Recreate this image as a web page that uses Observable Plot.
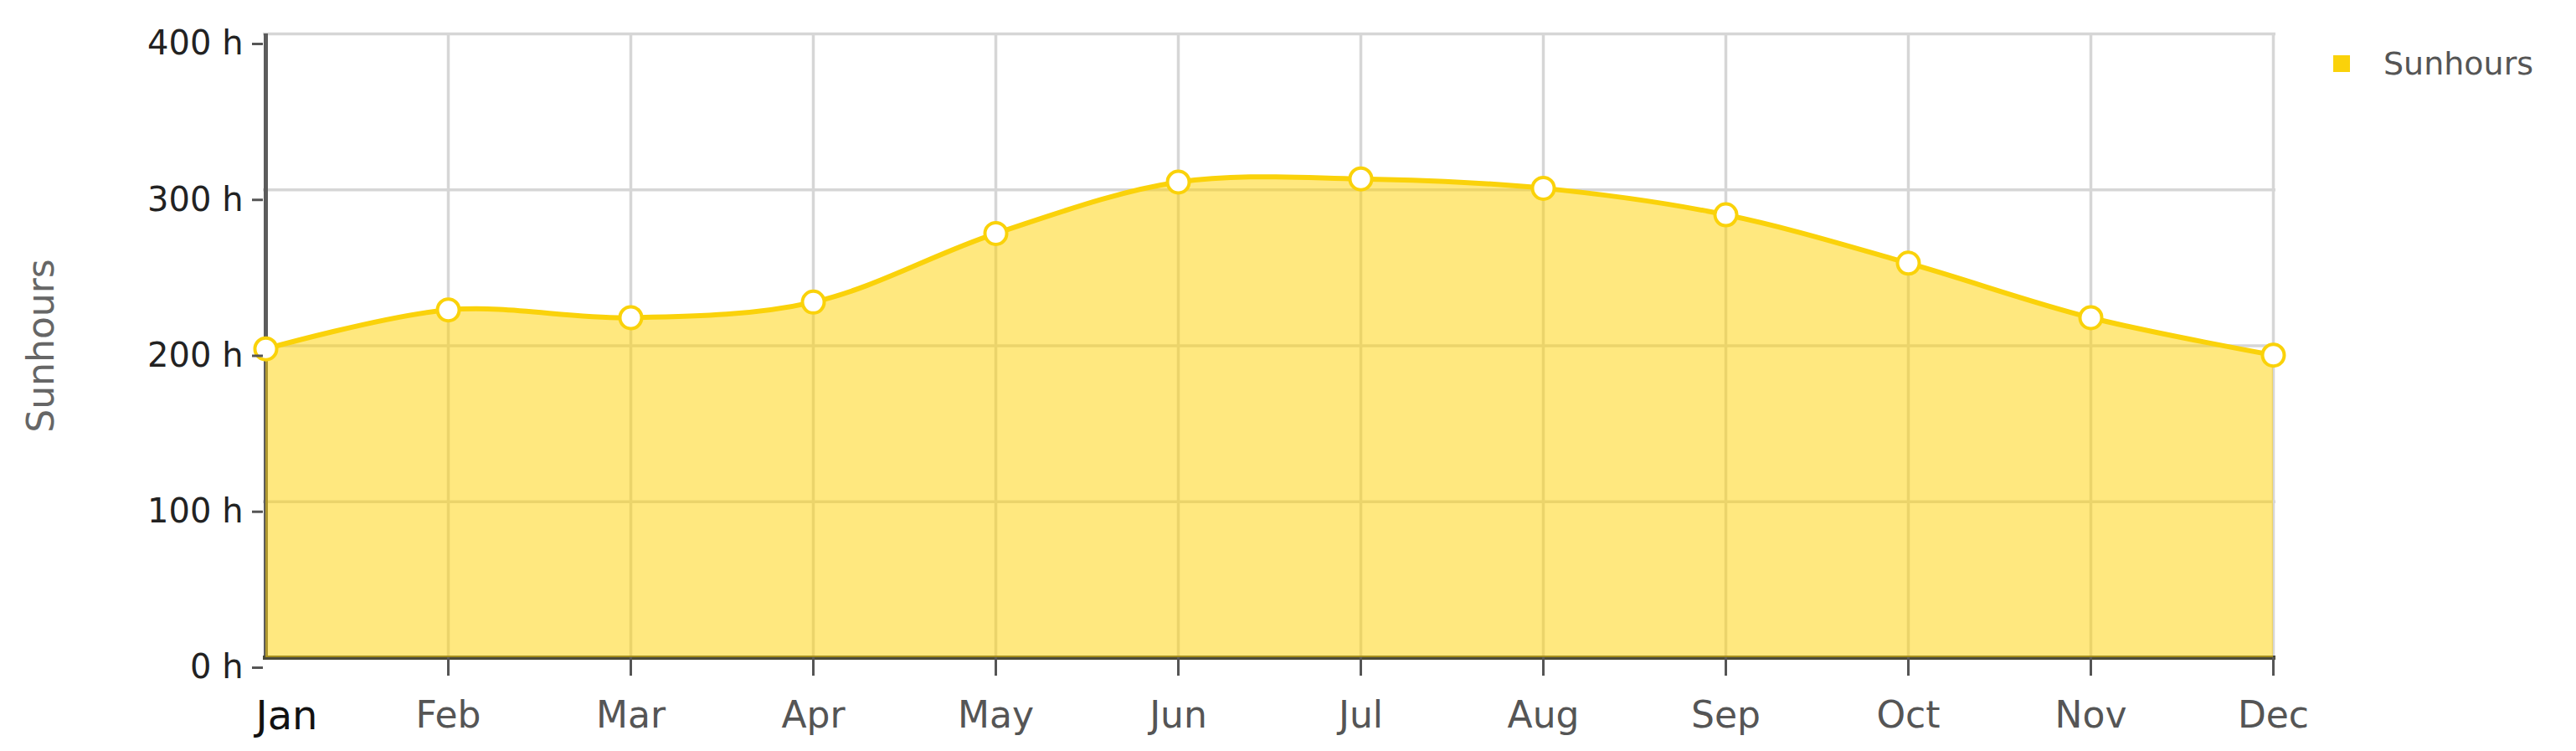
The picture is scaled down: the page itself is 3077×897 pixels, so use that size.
<!DOCTYPE html>
<html>
<head>
<meta charset="utf-8">
<script src="https://cdn.jsdelivr.net/npm/d3@7"></script>
<script src="https://cdn.jsdelivr.net/npm/@observablehq/plot@0.6"></script>
<style>
  html, body { margin: 0; padding: 0; background: #fff; overflow: hidden; }
  #wrap { position: relative; width: 3077px; height: 897px; }
  #legend { position: absolute; left: 2787px; top: 54px; }
</style>
</head>
<body>
<div id="wrap"><div id="legend"></div></div>
<script>
const months = ["Jan","Feb","Mar","Apr","May","Jun","Jul","Aug","Sep","Oct","Nov","Dec"];
const sunhours = [198, 223, 218, 228, 272, 305, 307, 301, 284, 253, 218, 194];
const yTicks = [0, 100, 200, 300, 400];
const seriesName = "Sunhours";

const data = months.map((m, i) => ({month: m, value: sunhours[i]}));
const gold = "#fad20a";
const font = "DejaVu Sans, Verdana, sans-serif";

const chart = Plot.plot({
  width: 3077,
  height: 897,
  marginLeft: 314,
  marginRight: 359,
  marginTop: 40,
  marginBottom: 112,
  style: {fontFamily: font, background: "transparent"},
  x: {type: "point", domain: months, padding: 0},
  y: {domain: [0, 400]},
  marks: [
    Plot.gridX(months, {stroke: "#d6d6d6", strokeOpacity: 1, strokeWidth: 3.5}),
    Plot.gridY(yTicks, {stroke: "#d6d6d6", strokeOpacity: 1, strokeWidth: 3.5}),
    Plot.ruleX([months[0]], {stroke: "#5c5c5c", strokeWidth: 5}),
    Plot.ruleY([0], {stroke: "#4a4a3a", strokeWidth: 5}),
    Plot.areaY(data, {x: "month", y: "value", curve: "catmull-rom", fill: "#ffd200", fillOpacity: 0.5}),
    Plot.lineY(data, {x: "month", y: "value", curve: "catmull-rom", stroke: gold, strokeWidth: 6}),
    Plot.dot(data, {x: "month", y: "value", r: 13, fill: "white", stroke: gold, strokeWidth: 4}),
    Plot.axisY({
      ticks: yTicks, tickFormat: d => `${d} h`, tickSize: 13, tickPadding: 11,
      fontSize: 40, fill: "#222", stroke: "#555", strokeWidth: 3, dy: 12, label: null
    }),
    Plot.axisY({
      ticks: [], label: seriesName, labelAnchor: "center", labelOffset: 282, labelArrow: false,
      fontSize: 44, fill: "#666"
    }),
    Plot.axisX({
      ticks: months.slice(1), tickSize: 22, tickPadding: 30,
      fontSize: 44, fill: "#555", stroke: "#555", strokeWidth: 3, label: null
    }),
    Plot.axisX({
      ticks: [months[0]], tickSize: 0, tickPadding: 51, textAnchor: "start", dx: -12,
      fontSize: 48, fill: "#111", label: null
    })
  ]
});
document.getElementById("wrap").prepend(chart);

const legend = Plot.legend({
  color: {type: "categorical", domain: [seriesName], range: [gold]},
  legend: "swatches",
  swatchSize: 20,
  style: {fontFamily: font, fontSize: "38px", color: "#555"}
});
document.getElementById("legend").appendChild(legend);
legend.querySelectorAll("svg").forEach(s => { s.style.marginRight = "40px"; });
legend.style.margin = "0";
</script>
</body>
</html>
